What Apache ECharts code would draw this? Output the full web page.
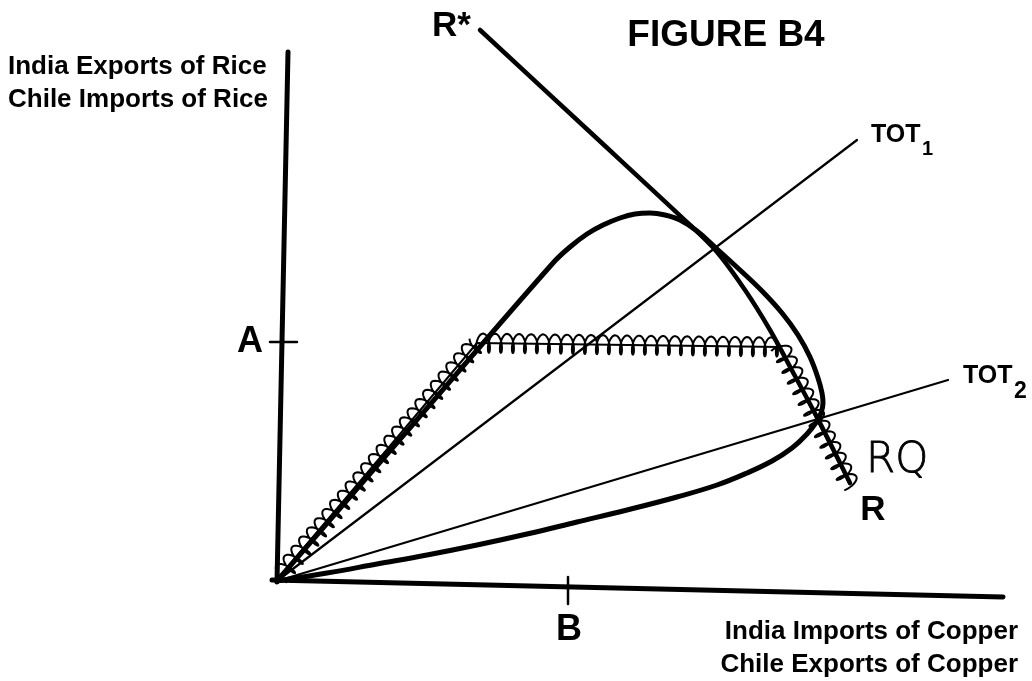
<!DOCTYPE html>
<html>
<head>
<meta charset="utf-8">
<script src="https://cdn.jsdelivr.net/npm/echarts@6/dist/echarts.min.js"></script>
<style>
  html, body { margin: 0; padding: 0; background: #fff; }
  #chart { width: 1032px; height: 681px; }
</style>
</head>
<body>
<div id="chart"></div>
<script>
// Coordinates: origin of the diagram at (0,0), one unit ~ one pixel
const yAxisLine = [[0, -1], [11, 529]];
const xAxisLine = [[-5, 1], [726, -16]];
const tickA = [[-7, 239], [20, 239]];
const tickB = [[291, 4], [291, -23]];

const tot1 = [[0, 0], [580, 441]];
const tot2 = [[0, 0], [671, 201]];

// R* .. R reciprocal demand line
const rrLine = [[203, 551], [313, 449], [413, 356], [440, 329], [468, 291],
  [493, 251], [518, 205], [543, 158], [573, 98]];

// closed offer-curve loop
const offerLoop = [[0, 0], [138, 159], [276, 318], [293, 334], [310, 347], [326, 356],
  [343, 363], [358, 367], [373, 368], [388, 366], [403, 361], [420, 350], [440, 332],
  [463, 311], [485, 290], [505, 268], [521, 246], [533, 224], [541, 203], [545, 188],
  [546, 178], [544, 168], [540, 160], [530, 147], [515, 133], [495, 120], [470, 108],
  [440, 96], [400, 84], [350, 71], [300, 59], [250, 47], [200, 36], [150, 26],
  [100, 17], [50, 8], [0, 0]];

// squiggle (shaded) path segments: x0, y0, x1, y1
const wiggleSegments = [[3, 5, 200, 238], [200, 238, 503, 234], [503, 234, 573, 96]];

const chart = echarts.init(document.getElementById('chart'));

function lineSeries(data, width, smooth) {
    return {
        type: 'line',
        data: data,
        symbol: 'none',
        smooth: smooth || false,
        silent: true,
        lineStyle: { color: '#000', width: width, cap: 'round', join: 'round' },
        z: 3
    };
}

// draws a hand-drawn looking coil along each segment
function renderWiggle(params, api) {
    const p0 = api.coord([api.value(0), api.value(1)]);
    const p1 = api.coord([api.value(2), api.value(3)]);
    const dx = p1[0] - p0[0], dy = p1[1] - p0[1];
    const len = Math.hypot(dx, dy);
    const ux = dx / len, uy = dy / len;
    const nx = uy, ny = -ux;
    const period = 12, amp = 9.5, back = 3.5;
    const steps = Math.ceil(len / period * 24);
    const pts = [];
    for (let i = 0; i <= steps; i++) {
        const s = len * i / steps;
        const phi = 2 * Math.PI * s / period;
        const along = s - back * Math.sin(phi);
        const off = -amp * Math.cos(phi);
        pts.push([p0[0] + ux * along + nx * off, p0[1] + uy * along + ny * off]);
    }
    return {
        type: 'group',
        children: [
            { type: 'line', shape: { x1: p0[0], y1: p0[1], x2: p1[0], y2: p1[1] },
              style: { stroke: '#000', lineWidth: 2 } },
            { type: 'polyline', shape: { points: pts },
              style: { stroke: '#000', lineWidth: 2, fill: null } }
        ]
    };
}

const font = '"Liberation Sans", Arial, sans-serif';
function txt(text, x, y, size, align) {
    return {
        type: 'text', x: x, y: y, z: 10,
        style: {
            text: text, font: 'bold ' + size + 'px ' + font, fill: '#000',
            align: align || 'left', verticalAlign: 'middle'
        }
    };
}

const option = {
    animation: false,
    backgroundColor: '#fff',
    grid: { left: 0, right: 0, top: 0, bottom: 0 },
    xAxis: { type: 'value', min: -277, max: 755, show: false },
    yAxis: { type: 'value', min: -100, max: 581, show: false },
    series: [
        lineSeries(yAxisLine, 5),
        lineSeries(xAxisLine, 5),
        lineSeries(tickA, 2.5),
        lineSeries(tickB, 2.5),
        lineSeries(tot1, 2.2),
        lineSeries(tot2, 2.2),
        {
            type: 'custom',
            renderItem: renderWiggle,
            data: wiggleSegments,
            encode: { x: [0, 2], y: [1, 3] },
            silent: true,
            clip: false,
            z: 2
        },
        lineSeries(rrLine, 4.5, 0.3),
        lineSeries(offerLoop, 5, 0.4)
    ],
    graphic: [
        txt('FIGURE B4', 726, 36, 37, 'center'),
        txt('India Exports of Rice', 8, 67, 26),
        txt('Chile Imports of Rice', 8, 100, 26),
        txt('India Imports of Copper', 1018, 632, 26, 'right'),
        txt('Chile Exports of Copper', 1018, 665, 26, 'right'),
        txt('A', 250, 342, 36, 'center'),
        txt('B', 569, 630, 36, 'center'),
        txt('R*', 432, 26, 35),
        txt('R', 873, 510, 35, 'center'),
        txt('TOT', 871, 135, 25),
        txt('1', 922, 149, 20),
        txt('TOT', 963, 376, 25),
        txt('2', 1014, 392, 23),
        {
            type: 'text', x: 866, y: 461, z: 10,
            style: {
                text: 'RQ', font: '200 42px "DejaVu Sans", sans-serif', fill: '#000',
                stroke: '#000', lineWidth: 0.8,
                align: 'left', verticalAlign: 'middle'
            }
        }
    ]
};

chart.setOption(option);
</script>
</body>
</html>
